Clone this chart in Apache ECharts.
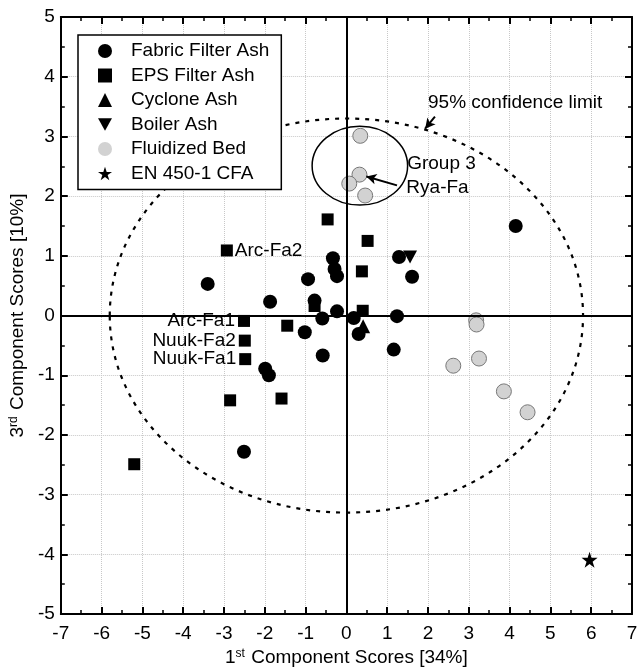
<!DOCTYPE html>
<html>
<head>
<meta charset="utf-8">
<script src="https://cdn.jsdelivr.net/npm/echarts@6/dist/echarts.min.js"></script>
<style>
  html, body { margin: 0; padding: 0; background: #fff; }
  #chart { width: 643px; height: 672px; }
</style>
</head>
<body>
<div id="chart"></div>
<script>
// scores: [1st comp, 3rd comp]
const fabricFilter = [
  [4.15, 1.50], [-3.40, 0.53], [-1.87, 0.23], [-0.94, 0.61], [-0.33, 0.96],
  [-0.29, 0.78], [-0.23, 0.66], [-0.78, 0.25], [-0.23, 0.07], [-0.59, -0.05],
  [-1.02, -0.28], [-0.58, -0.67], [0.18, -0.04], [0.30, -0.31], [1.24, -0.01],
  [1.16, -0.57], [1.29, 0.98], [1.61, 0.65], [-1.99, -0.89], [-1.90, -1.00],
  [-2.51, -2.28]
];
const epsFilter = [
  [-0.46, 1.61], [0.52, 1.25], [0.38, 0.74], [0.40, 0.08], [-0.78, 0.16],
  [-2.93, 1.09], [-2.51, -0.09], [-1.45, -0.17], [-2.49, -0.42], [-2.48, -0.73],
  [-2.85, -1.42], [-1.59, -1.39], [-5.20, -2.49]
];
const cyclone = [[0.41, -0.18]];
const boiler = [[1.56, 0.98]];
const fluidized = [
  [0.34, 3.01], [0.32, 2.36], [0.07, 2.21], [0.46, 2.01], [3.18, -0.08],
  [3.19, -0.15], [3.25, -0.72], [2.62, -0.84], [3.86, -1.27], [4.44, -1.62]
];
const en450 = [[5.96, -4.09]];

// labelled EPS samples: [x, y, name, side]
const sampleLabels = [
  [-2.93, 1.09, 'Arc-Fa2', 'right'],
  [-2.51, -0.09, 'Arc-Fa1', 'left'],
  [-2.49, -0.42, 'Nuuk-Fa2', 'left'],
  [-2.48, -0.73, 'Nuuk-Fa1', 'left']
];

// ellipses: [cx, cy, rx, ry, dashed]
const ellipses = [
  [0, 0, 5.8, 3.3, 1],
  [0.33, 2.51, 1.17, 0.66, 0]
];
// notes: [x, y, text]
const notes = [
  [1.49, 2.55, 'Group 3'],
  [1.47, 2.14, 'Rya-Fa'],
  [2.0, 3.56, '95% confidence limit']
];
// arrows: [x1, y1, x2, y2]
const arrows = [
  [1.24, 2.18, 0.49, 2.33],
  [2.17, 3.33, 1.93, 3.13]
];

const FONT = 'Liberation Sans';
const FS = 19;
const invTri = 'path://M0,0 L10,0 L5,9 Z';
const star = 'path://M5,0 L6.2,3.6 L10,3.6 L6.9,5.9 L8.1,9.5 L5,7.3 L1.9,9.5 L3.1,5.9 L0,3.6 L3.8,3.6 Z';

const chart = echarts.init(document.getElementById('chart'));

const baseAxis = {
  min: -7, max: 7, interval: 1,
  axisLine: { onZero: false, lineStyle: { color: '#000', width: 2 } },
  axisTick: { inside: true, length: 7, lineStyle: { color: '#000', width: 2 } },
  minorTick: { show: true, splitNumber: 2, length: 4, lineStyle: { color: '#000', width: 1.5 } },
  splitLine: { show: false },
  axisLabel: { show: false }
};
const supRich = { sup: { fontSize: 12, verticalAlign: 'top', fontFamily: FONT, color: '#000', padding: [0, 1, 7, 0] } };

const option = {
  animation: false,
  textStyle: { fontFamily: FONT },
  grid: { left: 59, right: 11, top: 17, bottom: 51 },
  legend: {
    orient: 'vertical',
    left: 78, top: 35,
    data: [
      'Fabric Filter Ash', 'EPS Filter Ash', 'Cyclone Ash', 'Boiler Ash',
      { name: 'Fluidized Bed', itemStyle: { borderWidth: 0, color: '#d2d2d2' } },
      'EN 450-1 CFA'
    ],
    backgroundColor: '#fff',
    borderColor: '#000', borderWidth: 1.5, borderRadius: 0,
    padding: [6, 12, 6, 20],
    itemWidth: 14, itemHeight: 14, itemGap: 4.5,
    textStyle: { fontFamily: FONT, fontSize: FS, color: '#000', lineHeight: 20, padding: [0, 0, 0, 14] },
    selectedMode: false
  },
  xAxis: [
    Object.assign({}, baseAxis, {
      type: 'value', position: 'bottom',
      splitLine: { show: true, lineStyle: { color: '#c8c8c8', type: 'dotted', width: 1 } },
      axisLabel: { show: true, color: '#000', fontSize: FS, margin: 10, fontFamily: FONT },
      name: '1{sup|st} Component Scores [34%]',
      nameLocation: 'middle', nameGap: 31,
      nameTextStyle: { color: '#000', fontSize: FS, fontFamily: FONT, rich: supRich }
    }),
    Object.assign({}, baseAxis, { type: 'value', position: 'top' })
  ],
  yAxis: [
    Object.assign({}, baseAxis, {
      type: 'value', position: 'left', min: -5, max: 5,
      splitLine: { show: true, lineStyle: { color: '#c8c8c8', type: 'dotted', width: 1 } },
      axisLabel: { show: true, color: '#000', fontSize: FS, margin: 6, fontFamily: FONT },
      name: '3{sup|rd} Component Scores [10%]',
      nameLocation: 'middle', nameGap: 22,
      nameTextStyle: { color: '#000', fontSize: FS, fontFamily: FONT, rich: supRich }
    }),
    Object.assign({}, baseAxis, { type: 'value', position: 'right', min: -5, max: 5 })
  ],
  series: [
    {
      // zero lines
      type: 'scatter', data: [], silent: true, z: 1,
      markLine: {
        silent: true, symbol: ['none', 'none'], label: { show: false },
        lineStyle: { color: '#000', width: 2, type: 'solid' },
        data: [{ xAxis: 0 }, { yAxis: 0 }]
      }
    },
    {
      type: 'custom', silent: true, z: 2,
      data: ellipses,
      renderItem: function (params, api) {
        const c = api.coord([api.value(0), api.value(1)]);
        const s = api.size([api.value(2), api.value(3)]);
        const dashed = api.value(4) === 1;
        return {
          type: 'ellipse',
          shape: { cx: c[0], cy: c[1], rx: s[0], ry: s[1] },
          style: {
            fill: 'none', stroke: '#000',
            lineWidth: dashed ? 2.2 : 1.5,
            lineDash: dashed ? [4, 6] : null
          }
        };
      }
    },
    {
      type: 'custom', silent: true, z: 6,
      data: notes,
      renderItem: function (params, api) {
        const c = api.coord([api.value(0), api.value(1)]);
        return {
          type: 'text', x: c[0], y: c[1],
          style: {
            text: notes[params.dataIndex][2],
            font: FS + 'px ' + FONT, fill: '#000',
            textAlign: 'left', textVerticalAlign: 'middle'
          }
        };
      }
    },
    {
      type: 'scatter', data: [], silent: true, z: 6,
      markLine: {
        silent: true, symbol: ['none', 'arrow'], symbolSize: [8, 10],
        label: { show: false },
        lineStyle: { color: '#000', width: 2, type: 'solid' },
        data: arrows.map(a => [{ coord: [a[0], a[1]] }, { coord: [a[2], a[3]] }])
      }
    },
    {
      name: 'Fabric Filter Ash', type: 'scatter', symbol: 'circle', symbolSize: 14, z: 4,
      itemStyle: { color: '#000', opacity: 1 }, data: fabricFilter
    },
    {
      name: 'EPS Filter Ash', type: 'scatter', symbol: 'rect', symbolSize: 12, z: 4,
      itemStyle: { color: '#000', opacity: 1 }, data: epsFilter
    },
    {
      name: 'Cyclone Ash', type: 'scatter', symbol: 'triangle', symbolSize: 14, z: 4,
      itemStyle: { color: '#000', opacity: 1 }, data: cyclone
    },
    {
      name: 'Boiler Ash', type: 'scatter', symbol: invTri, symbolSize: [14, 13], z: 4,
      itemStyle: { color: '#000', opacity: 1 }, data: boiler
    },
    {
      name: 'Fluidized Bed', type: 'scatter', symbol: 'circle', symbolSize: 15, z: 4,
      itemStyle: { color: '#d2d2d2', borderColor: '#777', borderWidth: 1, opacity: 1 }, data: fluidized
    },
    {
      name: 'EN 450-1 CFA', type: 'scatter', symbol: star, symbolSize: 16, z: 4,
      itemStyle: { color: '#000', opacity: 1 }, data: en450
    },
    {
      // sample labels next to the labelled squares
      type: 'custom', silent: true, z: 5,
      data: sampleLabels,
      renderItem: function (params, api) {
        const c = api.coord([api.value(0), api.value(1)]);
        const s = sampleLabels[params.dataIndex];
        const right = s[3] === 'right';
        return {
          type: 'text', x: c[0] + (right ? 8 : -9), y: c[1],
          style: {
            text: s[2], font: FS + 'px ' + FONT, fill: '#000',
            textAlign: right ? 'left' : 'right', textVerticalAlign: 'middle'
          }
        };
      }
    }
  ]
};

chart.setOption(option);
</script>
</body>
</html>
